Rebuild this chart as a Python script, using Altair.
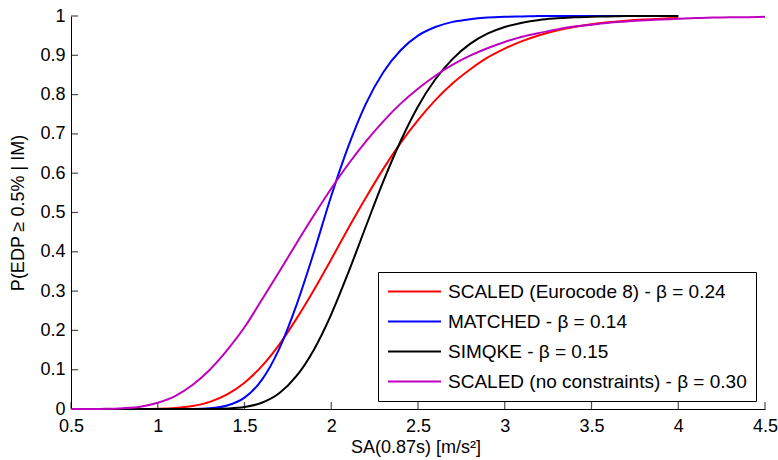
import altair as alt
import pandas as pd

x_grid = [0.5, 0.6, 0.7, 0.8, 0.9, 1.0, 1.1, 1.2, 1.3, 1.4, 1.5, 1.6, 1.7, 1.8, 1.9,
          2.0, 2.1, 2.2, 2.3, 2.4, 2.5, 2.6, 2.7, 2.8, 2.9, 3.0, 3.1, 3.2, 3.3, 3.4,
          3.5, 3.6, 3.7, 3.8, 3.9, 4.0, 4.1, 4.2, 4.3, 4.4, 4.5]

red_vals = [0.0, 0.0, 0.0, 0.0, 0.0001, 0.0007, 0.0026, 0.0075, 0.018, 0.037, 0.067,
            0.109, 0.164, 0.230, 0.303, 0.381, 0.461, 0.538, 0.611, 0.677, 0.735,
            0.786, 0.829, 0.864, 0.894, 0.917, 0.936, 0.951, 0.963, 0.972, 0.979,
            0.984, 0.988, 0.991, 0.993, 0.995]

blue_vals = [0.0, 0.0, 0.0, 0.0, 0.0, 0.0, 0.0, 0.0003, 0.002, 0.009, 0.029,
             0.074, 0.153, 0.265, 0.399, 0.542, 0.670, 0.777, 0.857, 0.913, 0.950,
             0.972, 0.985, 0.992, 0.996, 0.998, 0.999, 1.0, 1.0, 1.0, 1.0,
             1.0, 1.0, 1.0, 1.0, 1.0]

black_vals = [0.0, 0.0, 0.0, 0.0, 0.0, 0.0, 0.0, 0.0, 0.0002, 0.0013, 0.005,
              0.016, 0.040, 0.084, 0.151, 0.241, 0.349, 0.465, 0.579, 0.682, 0.770,
              0.839, 0.891, 0.929, 0.955, 0.972, 0.983, 0.990, 0.994, 0.997, 0.998,
              0.999, 1.0, 1.0, 1.0, 1.0]

magenta_vals = [0.0, 0.0001, 0.0004, 0.002, 0.006, 0.016, 0.033, 0.061, 0.100, 0.150, 0.208,
                0.278, 0.349, 0.422, 0.493, 0.561, 0.624, 0.681, 0.732, 0.777, 0.815,
                0.848, 0.876, 0.899, 0.918, 0.934, 0.947, 0.957, 0.966, 0.973, 0.978,
                0.983, 0.986, 0.989, 0.991, 0.993, 0.995, 0.996, 0.997, 0.997, 0.998]

labels = ["SCALED (Eurocode 8) - β = 0.24",
          "MATCHED - β = 0.14",
          "SIMQKE - β = 0.15",
          "SCALED (no constraints) - β = 0.30"]
colors = ["#FF0000", "#0000FF", "#000000", "#BF00BF"]

x_ticks = [0.5, 1.0, 1.5, 2.0, 2.5, 3.0, 3.5, 4.0, 4.5]
y_ticks = [0.0, 0.1, 0.2, 0.3, 0.4, 0.5, 0.6, 0.7, 0.8, 0.9, 1.0]

rows = []
for lab, vals in zip(labels, [red_vals, blue_vals, black_vals, magenta_vals]):
    for xv, yv in zip(x_grid, vals):
        rows.append({"series": lab, "sa": xv, "p": yv})
df = pd.DataFrame(rows)

FONT = "Liberation Sans"
xscale = alt.Scale(domain=[0.5, 4.5], nice=False, zero=False)
yscale = alt.Scale(domain=[0, 1], nice=False, zero=False)

xaxis = alt.Axis(values=x_ticks, format="~g", ticks=False, grid=False,
                 title="SA(0.87s) [m/s²]", labelFlush=False, labelOverlap=False,
                 labelPadding=8, titleX=344.5, titleY=38, titleBaseline="middle")
yaxis = alt.Axis(values=y_ticks, format="~g", ticks=False, grid=False,
                 title="P(EDP ≥ 0.5% | IM)", labelFlush=False, labelOverlap=False,
                 labelPadding=6, titleX=-53, titleY=196.5, titleBaseline="middle")

lines = alt.Chart(df).mark_line(strokeWidth=2, interpolate="monotone").encode(
    x=alt.X("sa:Q", scale=xscale, axis=xaxis),
    y=alt.Y("p:Q", scale=yscale, axis=yaxis),
    color=alt.Color("series:N", scale=alt.Scale(domain=labels, range=colors),
                    legend=alt.Legend(title=None, orient="none", legendX=307, legendY=256,
                                      symbolType="M-1,0H4.58", symbolSize=361,
                                      symbolStrokeWidth=2, labelFont=FONT,
                                      labelFontSize=19, labelColor="#000000",
                                      padding=9, strokeColor="#000000",
                                      fillColor="#FFFFFF", rowPadding=9,
                                      labelOffset=40, cornerRadius=0, labelLimit=0)),
)

xt = alt.Chart(pd.DataFrame({"sa": x_ticks})).mark_tick(
    color="#000000", thickness=1.2, size=7).encode(
    x=alt.X("sa:Q", scale=xscale, axis=xaxis), y=alt.value(389.5))

yt = alt.Chart(pd.DataFrame({"p": y_ticks})).mark_tick(
    color="#000000", thickness=1.2, size=7).encode(
    y=alt.Y("p:Q", scale=yscale, axis=yaxis), x=alt.value(3.5))

chart = alt.layer(xt, yt, lines).properties(
    width=694, height=393,
    autosize=alt.AutoSizeParams(type="none"),
    padding={"left": 71, "top": 16, "right": 13, "bottom": 51},
    background="#FFFFFF",
).configure_view(stroke=None).configure_axis(
    domainColor="#000000", domainWidth=1,
    labelFont=FONT, labelFontSize=18, labelColor="#000000",
    titleFont=FONT, titleFontSize=18, titleFontWeight="normal", titleColor="#000000",
)

chart.save("out.html", embed_options={"renderer": "svg", "actions": False})
